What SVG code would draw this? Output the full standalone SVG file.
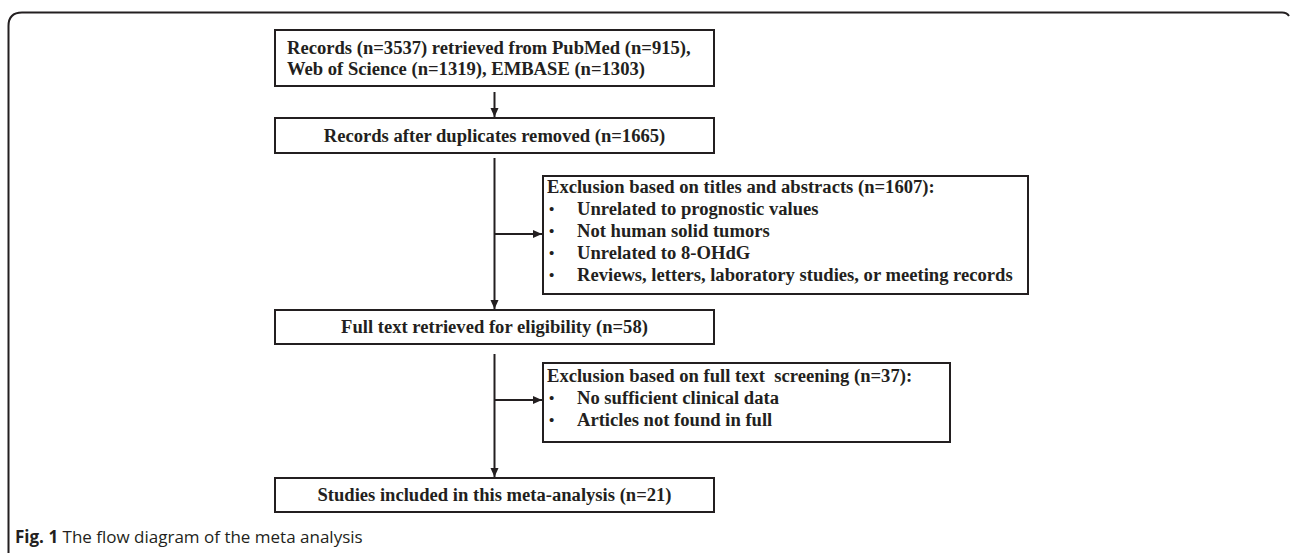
<svg xmlns="http://www.w3.org/2000/svg" width="1290" height="553" viewBox="0 0 1290 553">
<defs>
<style>
.box{fill:#fff;stroke:#231f20;stroke-width:2}
.t{font-family:"Liberation Serif","Times New Roman",serif;font-weight:bold;font-size:18.6px;fill:#231f20;white-space:pre}
.c{text-anchor:middle}
.bul{font-family:"Liberation Sans",Arial,sans-serif;font-weight:normal;font-size:15px;fill:#231f20}
.ln{fill:none;stroke:#231f20;stroke-width:2}
.cap{font-family:"Open Sans","Noto Sans",sans-serif;font-size:17px;fill:#231f20}
</style>
<marker id="ah" markerWidth="10" markerHeight="10" refX="9" refY="5" orient="auto" markerUnits="userSpaceOnUse">
<path d="M0,1 L9,5 L0,9 Z" fill="#231f20"/>
</marker>
</defs>
<rect width="1290" height="553" fill="#fff"/>
<path d="M8.5 553 V26 Q8.5 12.5 22 12.5 H1282 Q1287 12.5 1289 16" fill="none" stroke="#231f20" stroke-width="2"/>

<g id="connectors">
<line class="ln" x1="494.5" y1="92" x2="494.5" y2="117" marker-end="url(#ah)"/>
<line class="ln" x1="494.5" y1="158" x2="494.5" y2="309" marker-end="url(#ah)"/>
<line class="ln" x1="494.5" y1="234" x2="542" y2="234" marker-end="url(#ah)"/>
<line class="ln" x1="494.5" y1="354" x2="494.5" y2="477" marker-end="url(#ah)"/>
<line class="ln" x1="494.5" y1="400" x2="542" y2="400" marker-end="url(#ah)"/>
</g>

<g id="n1">
<rect class="box" x="275" y="30" width="439" height="56"/>
<text class="t" x="287" y="54">Records (n=3537) retrieved from PubMed (n=915),</text>
<text class="t" x="287" y="75">Web of Science (n=1319), EMBASE (n=1303)</text>
</g>
<g id="n2">
<rect class="box" x="275" y="118" width="439" height="35"/>
<text class="t c" x="494.5" y="142">Records after duplicates removed (n=1665)</text>
</g>
<g id="n3">
<rect class="box" x="543" y="176" width="485" height="118"/>
<text class="t" x="547" y="193">Exclusion based on titles and abstracts (n=1607):</text>
<text class="bul" x="549" y="214">•</text><text class="t" x="577" y="215">Unrelated to prognostic values</text>
<text class="bul" x="549" y="236">•</text><text class="t" x="577" y="237">Not human solid tumors</text>
<text class="bul" x="549" y="258">•</text><text class="t" x="577" y="259">Unrelated to 8-OHdG</text>
<text class="bul" x="549" y="280">•</text><text class="t" x="577" y="281">Reviews, letters, laboratory studies, or meeting records</text>
</g>
<g id="n4">
<rect class="box" x="275" y="310" width="439" height="34"/>
<text class="t c" x="494.5" y="333">Full text retrieved for eligibility (n=58)</text>
</g>
<g id="n5">
<rect class="box" x="543" y="363" width="407" height="79"/>
<text class="t" x="547" y="382">Exclusion based on full text  screening (n=37):</text>
<text class="bul" x="549" y="403">•</text><text class="t" x="577" y="404">No sufficient clinical data</text>
<text class="bul" x="549" y="425">•</text><text class="t" x="577" y="426">Articles not found in full</text>
</g>
<g id="n6">
<rect class="box" x="275" y="478" width="439" height="34"/>
<text class="t c" x="494.5" y="501">Studies included in this meta-analysis (n=21)</text>
</g>
<text class="cap" x="15" y="543"><tspan font-weight="bold">Fig. 1</tspan> The flow diagram of the meta analysis</text>
</svg>
